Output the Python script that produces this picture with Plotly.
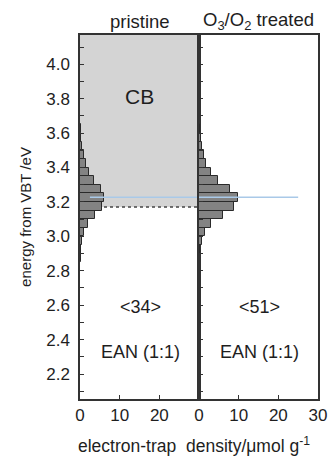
import plotly.graph_objects as go

# ---- data ----
energy_bins = [2.875, 2.925, 2.975, 3.025, 3.075, 3.125, 3.175, 3.225,
               3.275, 3.325, 3.375, 3.425, 3.475, 3.525, 3.575, 3.625]
pristine_density = [0.15, 0.3, 0.5, 1.0, 1.9, 3.7, 5.5, 6.1,
                    5.2, 3.6, 2.3, 1.5, 1.0, 0.6, 0.3, 0.2]
treated_density = [0.1, 0.25, 0.65, 1.4, 3.1, 6.1, 8.9, 9.8,
                   7.7, 4.9, 3.0, 1.8, 1.2, 0.65, 0.4, 0.2]
bin_width = 0.05
cb_edge = 3.17
blue_level = 3.227
panel_titles = ["pristine", "O<sub>3</sub>/O<sub>2</sub> treated"]
mean_labels = ["<34>", "<51>"]
sample_label = "EAN (1:1)"
x_ticks_left = [0, 10, 20]
x_ticks_right = [0, 10, 20, 30]
y_ticks = [2.2, 2.4, 2.6, 2.8, 3.0, 3.2, 3.4, 3.6, 3.8, 4.0]

FONT = "Liberation Sans, Arial, sans-serif"
TXT = "#1e1e1e"
AX = "#333333"

fig = go.Figure()

bar_style = dict(orientation="h", width=bin_width,
                 marker=dict(color="#838383", line=dict(color="#2a2a2a", width=1)),
                 showlegend=False, hoverinfo="skip")
fig.add_trace(go.Bar(x=pristine_density, y=energy_bins, xaxis="x", yaxis="y", **bar_style))
fig.add_trace(go.Bar(x=treated_density, y=energy_bins, xaxis="x2", yaxis="y2", **bar_style))

# blue reference line across both panels
fig.add_trace(go.Scatter(x=[2.5, 30], y=[blue_level, blue_level], xaxis="x", yaxis="y",
                         mode="lines", line=dict(color="#a9c9e8", width=1.5),
                         showlegend=False, hoverinfo="skip"))
fig.add_trace(go.Scatter(x=[0, 25], y=[blue_level, blue_level], xaxis="x2", yaxis="y2",
                         mode="lines", line=dict(color="#a9c9e8", width=1.5),
                         showlegend=False, hoverinfo="skip"))

# CB shaded region and dotted edge (left panel)
fig.add_shape(type="rect", xref="x", yref="y", x0=0, x1=30, y0=cb_edge, y1=4.17,
              fillcolor="#d4d4d4", line=dict(width=0), layer="below")
fig.add_shape(type="line", xref="x", yref="y", x0=0, x1=30, y0=cb_edge, y1=cb_edge,
              line=dict(color="#444444", width=1.5, dash="dot"), layer="below")

yr = [2.055, 4.17]
common_x = dict(range=[0, 30], showgrid=False, zeroline=False, showline=True,
                linecolor=AX, linewidth=1.5, mirror=True, ticks="inside",
                ticklen=4, tickcolor=AX, tickfont=dict(size=17, color=TXT, family=FONT))
common_y = dict(range=yr, showgrid=False, zeroline=False, showline=True,
                linecolor=AX, linewidth=1.5, mirror=True, ticks="inside",
                ticklen=4, tickcolor=AX, tickvals=y_ticks,
                minor=dict(dtick=0.1, tick0=2.0, ticks="inside", ticklen=4, tickcolor=AX),
                tickfont=dict(size=17, color=TXT, family=FONT))

# page body has an 8px default margin: figure is sized to fit the 336x456 window
fig.update_layout(
    width=328, height=448,
    margin=dict(l=72, r=9, t=27, b=57),
    paper_bgcolor="white", plot_bgcolor="white",
    bargap=0,
    xaxis=dict(domain=[0, 0.5], anchor="y", tickvals=x_ticks_left, **common_x),
    xaxis2=dict(domain=[0.5, 1.0], anchor="y2", tickvals=x_ticks_right, **common_x),
    yaxis=dict(anchor="x", tickformat=".1f", ticklabelstandoff=5,
               title=dict(text="energy from VBT /eV", font=dict(size=15, color=TXT, family=FONT), standoff=11),
               **common_y),
    yaxis2=dict(anchor="x2", matches="y", showticklabels=False, **common_y),
    font=dict(family=FONT, color=TXT),
)

ann = []
ann.append(dict(text=panel_titles[0], xref="x domain", yref="paper", x=0.5, y=1.0,
                yanchor="bottom", yshift=1, showarrow=False, font=dict(size=18.5, color=TXT)))
ann.append(dict(text=panel_titles[1], xref="x2 domain", yref="paper", x=0.5, y=1.0,
                yanchor="bottom", yshift=0, showarrow=False, font=dict(size=18.5, color=TXT)))
ann.append(dict(text="CB", xref="x", yref="y", x=15, y=3.81, showarrow=False,
                font=dict(size=21, color=TXT)))
for xr, lab in zip(["x", "x2"], mean_labels):
    ann.append(dict(text=lab, xref=xr, yref="y", x=15.3, y=2.59, showarrow=False,
                    font=dict(size=18, color=TXT)))
    ann.append(dict(text=sample_label, xref=xr, yref="y", x=15.3, y=2.33, showarrow=False,
                    font=dict(size=18, color=TXT)))
ann.append(dict(text="electron-trap  density/μmol g<sup>-1</sup>", xref="paper", yref="paper",
                x=0.48, y=0, yanchor="middle", yshift=-46, showarrow=False,
                font=dict(size=17.5, color=TXT)))
fig.update_layout(annotations=ann)

fig.write_html("out.html")
